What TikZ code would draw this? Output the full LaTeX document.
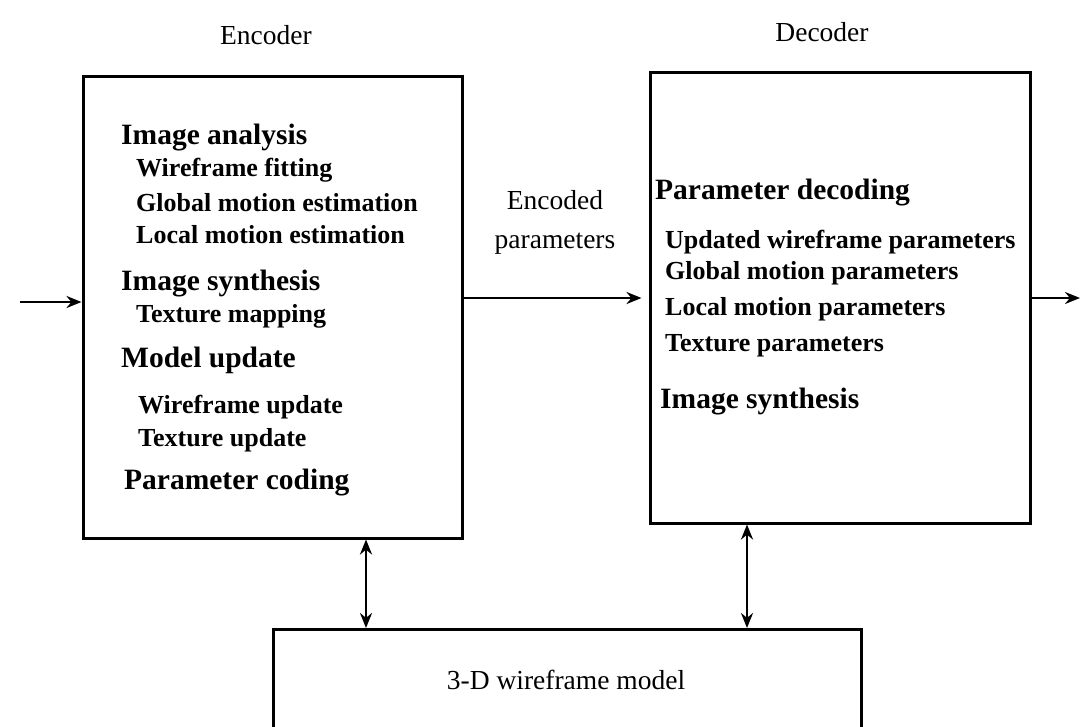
\documentclass[tikz,border=0pt]{standalone}
\usepackage{fontspec}
\setmainfont{Liberation Serif}
\usetikzlibrary{arrows.meta}
\begin{document}
\begin{tikzpicture}[x=1pt,y=-1pt,
  box/.style={draw, line width=3pt, inner sep=0pt},
  head/.style={anchor=west, inner sep=0pt, font=\fontsize{29.5}{34}\selectfont\bfseries},
  sub/.style={anchor=west, inner sep=0pt, font=\fontsize{26}{30}\selectfont\bfseries},
  lbl/.style={inner sep=0pt, align=center, font=\fontsize{27.5}{39}\selectfont},
  arr/.style={line width=2.6pt, -{Stealth[length=15pt,width=12pt]}},
  darr/.style={line width=2.8pt, {Stealth[length=15pt,width=12pt]}-{Stealth[length=15pt,width=12pt]}}]
\clip (0,0) rectangle (1082,726);
\fill[white] (0,0) rectangle (1082,726);
% boxes
\node[box, minimum width=379pt, minimum height=462pt] (enc) at (272.5,307) {};
\node[box, minimum width=380pt, minimum height=451pt] (dec) at (840,297.5) {};
\node[box, minimum width=588pt, minimum height=200pt, anchor=north west] (wm) at (272,628) {};
% titles
\node[lbl] (enct) at (266,35) {Encoder};
\node[lbl] (dect) at (822,32) {Decoder};
\node[lbl] (encp) at (555,222) {Encoded\\parameters};
\node[lbl] (wmt) at (566,680) {3-D wireframe model};
% encoder contents
\node[head] (e1) at (121,138) {Image analysis};
\node[sub] (e2) at (136,170) {Wireframe fitting};
\node[sub] (e3) at (136,203) {Global motion estimation};
\node[sub] (e4) at (136,235) {Local motion estimation};
\node[head] (e5) at (121,284) {Image synthesis};
\node[sub] (e6) at (136,316) {Texture mapping};
\node[head] (e7) at (121,360) {Model update};
\node[sub] (e8) at (138,407) {Wireframe update};
\node[sub] (e9) at (138,440) {Texture update};
\node[head] (e10) at (124,483) {Parameter coding};
% decoder contents
\node[head] (d1) at (655,193) {Parameter decoding};
\node[sub] (d2) at (665,242) {Updated wireframe parameters};
\node[sub] (d3) at (665,273) {Global motion parameters};
\node[sub] (d4) at (665,309) {Local motion parameters};
\node[sub] (d5) at (665,346) {Texture parameters};
\node[head] (d6) at (660,402) {Image synthesis};
% connectors
\coordinate (inp) at (20,302);
\coordinate (ey) at (0,298);
\coordinate (outp) at (1080,298);
\coordinate (ea) at (366,0);
\coordinate (da) at (747,0);
\draw[arr] (inp) -- (inp -| enc.west);
\draw[arr] (enc.east |- ey) -- ([xshift=-7pt]dec.west |- ey);
\draw[arr] (dec.east |- outp) -- (outp);
\draw[darr] (enc.south -| ea) -- (wm.north -| ea);
\draw[darr] (dec.south -| da) -- (wm.north -| da);
\end{tikzpicture}
\end{document}
